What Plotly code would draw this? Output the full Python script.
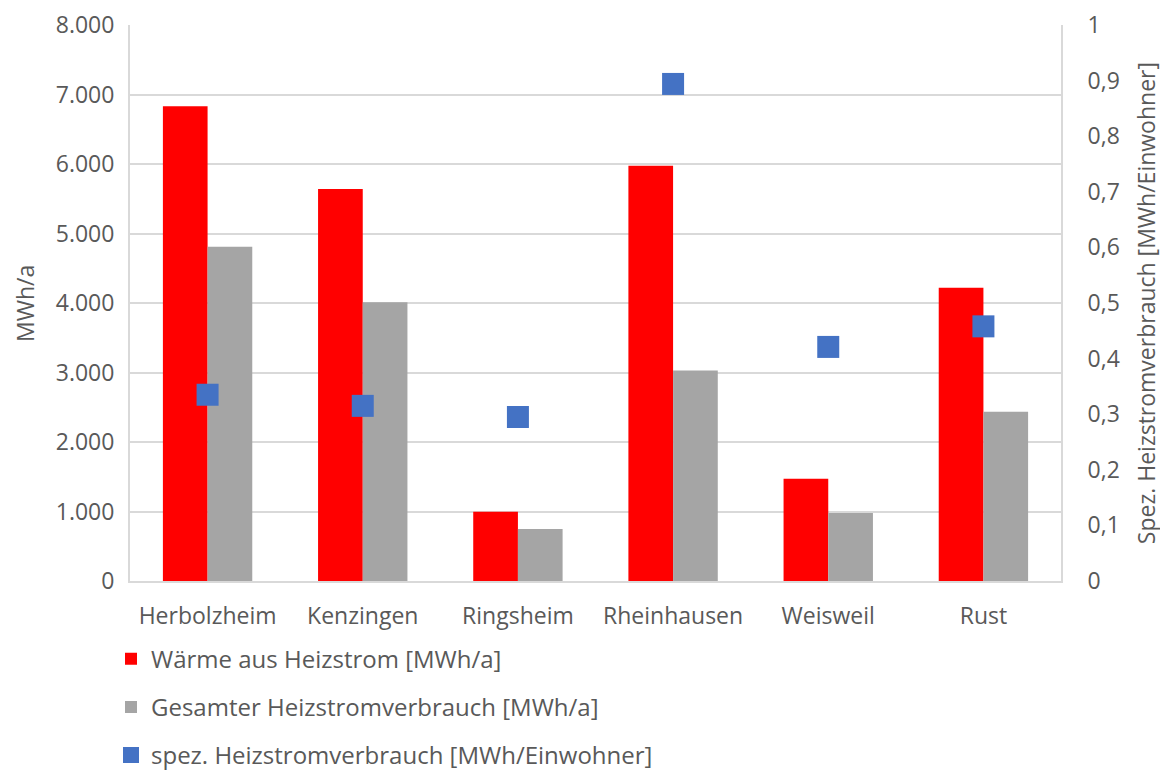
import plotly.graph_objects as go

categories = ["Herbolzheim", "Kenzingen", "Ringsheim", "Rheinhausen", "Weisweil", "Rust"]
waerme = [6830, 5640, 995, 5975, 1470, 4220]
gesamt = [4810, 4010, 750, 3030, 980, 2435]
spez = [0.335, 0.315, 0.295, 0.894, 0.421, 0.458]

left_ticks = [0, 1000, 2000, 3000, 4000, 5000, 6000, 7000, 8000]
left_labels = ["0", "1.000", "2.000", "3.000", "4.000", "5.000", "6.000", "7.000", "8.000"]
right_ticks = [0, 0.1, 0.2, 0.3, 0.4, 0.5, 0.6, 0.7, 0.8, 0.9, 1.0]
right_labels = ["0", "0,1", "0,2", "0,3", "0,4", "0,5", "0,6", "0,7", "0,8", "0,9", "1"]

FONT = "Open Sans"
TXT = "#595959"
GRID = "#d9d9d9"
FS = 23
LFS = 24

fig = go.Figure()
fig.add_trace(go.Bar(x=categories, y=waerme, name="Wärme aus Heizstrom [MWh/a]",
                     marker=dict(color="#FF0000", line=dict(width=0)), legendgroup="a"))
fig.add_trace(go.Bar(x=categories, y=gesamt, name="Gesamter Heizstromverbrauch [MWh/a]",
                     marker=dict(color="#A5A5A5", line=dict(width=0)), legendgroup="b"))
fig.add_trace(go.Scatter(x=categories, y=spez, name="spez. Heizstromverbrauch [MWh/Einwohner]",
                         mode="markers", yaxis="y2", legendgroup="c",
                         marker=dict(symbol="square", size=22, color="#4472C4")))

fig.update_layout(
    width=1168, height=772,
    margin=dict(l=122, r=115, t=17, b=199, autoexpand=False),
    paper_bgcolor="white", plot_bgcolor="white",
    font=dict(family=FONT, size=FS, color=TXT),
    barmode="group", bargap=0.424, bargroupgap=0,
    xaxis=dict(showgrid=False, showline=True, linecolor=GRID, linewidth=2,
               ticks="", tickfont=dict(size=FS, color=TXT), automargin=False,
               ticklabelstandoff=13),
    yaxis=dict(range=[0, 8000], tickvals=left_ticks, ticktext=left_labels,
               showgrid=True, gridcolor=GRID, gridwidth=1.5, zeroline=False,
               showline=True, linecolor=GRID, linewidth=2, ticks="",
               tickfont=dict(size=FS, color=TXT), automargin=False,
               ticklabelstandoff=9, ticklabeloverflow="allow"),
    yaxis2=dict(range=[0, 1], tickvals=right_ticks, ticktext=right_labels,
                overlaying="y", side="right", showgrid=False, zeroline=False,
                showline=True, linecolor=GRID, linewidth=2,
                ticks="outside", ticklen=20, tickcolor="rgba(0,0,0,0)",
                tickfont=dict(size=FS, color=TXT), automargin=False,
                ticklabeloverflow="allow"),
    annotations=[
        dict(text="MWh/a", xref="paper", yref="paper", x=-0.1128, y=0.5,
             textangle=-90, showarrow=False, xanchor="center", yanchor="middle",
             font=dict(size=FS, color=TXT)),
        dict(text="Spez. Heizstromverbrauch [MWh/Einwohner]", xref="paper", yref="paper",
             x=1.0915, y=0.5, textangle=-90, showarrow=False,
             xanchor="center", yanchor="middle", font=dict(size=FS, color=TXT)),
    ],
    legend=dict(orientation="v", x=-0.0204, xanchor="left", y=-0.1, yanchor="top",
                traceorder="grouped", tracegroupgap=14,
                font=dict(size=LFS, color=TXT), bgcolor="rgba(0,0,0,0)"),
    showlegend=True,
)

fig.write_html("out.html")
